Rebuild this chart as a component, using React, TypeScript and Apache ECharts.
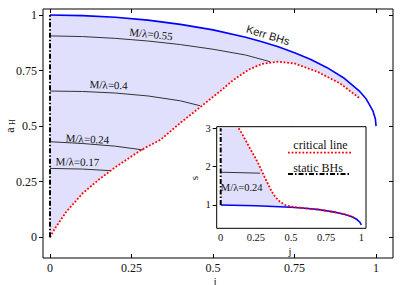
import React, { useEffect, useRef } from "react";
import * as echarts from "echarts";

// Main panel: a_H vs j
const kerrJ = [0, 0.1, 0.2, 0.3, 0.4, 0.5, 0.6, 0.65, 0.7, 0.75, 0.8, 0.85, 0.9, 0.95, 0.97, 0.99, 0.998, 1];
const kerrA = [1, 0.997, 0.99, 0.977, 0.958, 0.933, 0.9, 0.88, 0.857, 0.83, 0.8, 0.763, 0.718, 0.656, 0.622, 0.57, 0.532, 0.5];
const critJ = [0, 0.015, 0.05, 0.1, 0.15, 0.2, 0.28, 0.34, 0.4, 0.46, 0.52, 0.56, 0.61, 0.65, 0.7, 0.75, 0.82, 0.89, 0.95];
const critA = [0, 0.04, 0.115, 0.198, 0.26, 0.315, 0.393, 0.44, 0.515, 0.585, 0.655, 0.705, 0.755, 0.78, 0.79, 0.782, 0.745, 0.692, 0.625];
const m055J = [0, 0.1, 0.2, 0.3, 0.4, 0.5, 0.6, 0.675];
const m055A = [0.906, 0.903, 0.895, 0.883, 0.867, 0.846, 0.82, 0.79];
const m040J = [0, 0.1, 0.2, 0.3, 0.4, 0.46];
const m040A = [0.658, 0.656, 0.649, 0.636, 0.614, 0.592];
const m024J = [0, 0.1, 0.2, 0.286];
const m024A = [0.43, 0.422, 0.41, 0.393];
const m017J = [0, 0.1, 0.184];
const m017A = [0.31, 0.307, 0.3];
const staticJ = [0, 0];
const staticA = [0, 1];

// Inset: s vs j
const insKerrJ = [0, 0.25, 0.5, 0.6, 0.7, 0.8, 0.88, 0.93, 0.97, 0.99, 1];
const insKerrS = [1, 0.98, 0.94, 0.915, 0.88, 0.82, 0.76, 0.7, 0.62, 0.55, 0.48];
const insCritJ = [0.128, 0.15, 0.18, 0.209, 0.24, 0.268, 0.29, 0.316, 0.34, 0.363, 0.39, 0.42, 0.46, 0.5, 0.55, 0.6, 0.7, 0.8, 0.88, 0.93, 0.95];
const insCritS = [3, 2.87, 2.67, 2.47, 2.27, 2.08, 1.9, 1.7, 1.52, 1.35, 1.2, 1.09, 1.0, 0.955, 0.935, 0.915, 0.88, 0.82, 0.76, 0.7, 0.67];
const insM024J = [0, 0.28];
const insM024S = [1.855, 1.83];
const insStaticJ = [0, 0];
const insStaticS = [1, 3];

const mainTicksX = [0, 0.25, 0.5, 0.75, 1];
const mainTicksY = [0, 0.25, 0.5, 0.75, 1];
const insTicksX = [0, 0.25, 0.5, 0.75, 1];
const insTicksY = [1, 2, 3];

const SERIF = "Liberation Serif, serif";
const SANS = "Liberation Sans, sans-serif";
const SHADE = "#e0e0fc";
const RED_DOT = [1.8, 1.8];
const DASHDOT = [5, 2, 1.5, 2];

const pairs = (xs: number[], ys: number[]) => xs.map((x, i) => [x, ys[i]]);

function App() {
  const ref = useRef<HTMLDivElement>(null);
  useEffect(() => {
    if (!ref.current) return;
    const chart = echarts.init(ref.current, undefined, { renderer: "svg" });

    const xAxisCommon = (gridIndex: number, position: string, min: number, max: number, ticks: number[], labels: boolean, fontSize: number) => ({
      type: "value",
      gridIndex,
      position,
      min,
      max,
      axisLine: { show: false, onZero: false },
      splitLine: { show: false },
      axisTick: { show: true, inside: true, length: 4, customValues: ticks, lineStyle: { color: "#000", width: 1 } },
      axisLabel: {
        show: labels,
        customValues: ticks,
        margin: 4,
        fontFamily: SERIF,
        fontSize,
        color: "#111",
        formatter: (v: number) => String(v),
      },
    });
    const yAxisCommon = (gridIndex: number, position: string, min: number, max: number, ticks: number[], labels: boolean, fontSize: number, inside: boolean) => ({
      type: "value",
      gridIndex,
      position,
      min,
      max,
      axisLine: { show: false, onZero: false },
      splitLine: { show: false },
      axisTick: { show: true, inside, length: 4, customValues: ticks, lineStyle: { color: "#000", width: 1 } },
      axisLabel: {
        show: labels,
        customValues: ticks,
        margin: 6,
        fontFamily: SERIF,
        fontSize,
        color: "#111",
        formatter: (v: number) => String(v),
      },
    });

    const line = (data: number[][], xi: number, yi: number, color: string, width: number, type: any, z = 3) => ({
      type: "line",
      xAxisIndex: xi,
      yAxisIndex: yi,
      data,
      symbol: "none",
      showSymbol: false,
      silent: true,
      z,
      lineStyle: { color, width, type },
    });

    const txt = (x: number, y: number, text: string, font: string, rotDeg = 0) => ({
      type: "text",
      x,
      y,
      z: 20,
      zlevel: 0,
      rotation: (rotDeg * Math.PI) / 180,
      style: { text, font, fill: "#111", align: "center", verticalAlign: "middle" },
    });

    const option: any = {
      animation: false,
      grid: [
        { left: 43, top: 9, width: 350, height: 249, show: true, borderColor: "#000", borderWidth: 1, backgroundColor: "transparent" },
        { left: 216.7, top: 126.7, width: 149.3, height: 101.6, show: true, borderColor: "#000", borderWidth: 1, backgroundColor: "#fff", z: 4 },
      ],
      xAxis: [
        xAxisCommon(0, "bottom", -0.0215, 1.052, mainTicksX, true, 12),
        xAxisCommon(0, "top", -0.0215, 1.052, mainTicksX, false, 12),
        xAxisCommon(1, "bottom", -0.0285, 1.0335, insTicksX, true, 10.5),
        xAxisCommon(1, "top", -0.0285, 1.0335, insTicksX, false, 10.5),
      ],
      yAxis: [
        yAxisCommon(0, "left", -0.093, 1.027, mainTicksY, true, 12, false),
        yAxisCommon(0, "right", -0.093, 1.027, mainTicksY, false, 12, true),
        yAxisCommon(1, "left", 0.392, 3.042, insTicksY, true, 10.5, false),
        yAxisCommon(1, "right", 0.392, 3.042, insTicksY, false, 10.5, true),
      ],
      series: [
        {
          type: "custom",
          xAxisIndex: 0,
          yAxisIndex: 0,
          data: [[0, 0]],
          silent: true,
          z: 1,
          renderItem: (_p: any, api: any) => {
            const pts: number[][] = [];
            for (let i = 0; i < kerrJ.length; i++) if (kerrJ[i] <= 0.95) pts.push(api.coord([kerrJ[i], kerrA[i]]));
            for (let i = critJ.length - 1; i >= 0; i--) pts.push(api.coord([critJ[i], critA[i]]));
            return { type: "polygon", shape: { points: pts }, style: { fill: SHADE, stroke: null } };
          },
        },
        {
          type: "custom",
          xAxisIndex: 2,
          yAxisIndex: 2,
          data: [[0, 1]],
          silent: true,
          z: 5,
          renderItem: (_p: any, api: any) => {
            const pts: number[][] = [];
            for (let i = 0; i < insKerrJ.length; i++) if (insKerrJ[i] <= 0.95) pts.push(api.coord([insKerrJ[i], insKerrS[i]]));
            for (let i = insCritJ.length - 1; i >= 0; i--) pts.push(api.coord([insCritJ[i], insCritS[i]]));
            pts.push(api.coord([0, 3]));
            return { type: "polygon", shape: { points: pts }, style: { fill: SHADE, stroke: null } };
          },
        },
        line(pairs(m055J, m055A), 0, 0, "#333", 1, "solid"),
        line(pairs(m040J, m040A), 0, 0, "#333", 1, "solid"),
        line(pairs(m024J, m024A), 0, 0, "#333", 1, "solid"),
        line(pairs(m017J, m017A), 0, 0, "#333", 1, "solid"),
        line(pairs(kerrJ, kerrA), 0, 0, "#0000ff", 1.6, "solid", 4),
        line(pairs(critJ, critA), 0, 0, "#ff0000", 1.8, RED_DOT, 4),
        line(pairs(staticJ, staticA), 0, 0, "#000", 2, DASHDOT, 4),
        line(pairs(insM024J, insM024S), 2, 2, "#333", 1, "solid", 6),
        line(pairs(insKerrJ, insKerrS), 2, 2, "#0000ff", 1.6, "solid", 6),
        line(pairs(insCritJ, insCritS), 2, 2, "#ff0000", 1.8, RED_DOT, 7),
        line(pairs(insStaticJ, insStaticS), 2, 2, "#000", 2, DASHDOT, 7),
      ],
      graphic: [
        txt(10, 130, "a", `12px ${SERIF}`, 90),
        txt(12.5, 122, "H", `8px ${SERIF}`, 90),
        txt(215, 280.5, "j", `11px ${SERIF}`),
        txt(290, 251.5, "j", `10.5px ${SERIF}`),
        txt(194, 178, "s", `11px ${SERIF}`, 90),
        txt(268, 35, "Kerr BHs", `11px ${SANS}`, -17),
        txt(151, 34, "M/λ=0.55", `11px ${SERIF}`, -6),
        txt(108.7, 84.7, "M/λ=0.4", `11px ${SERIF}`, -2),
        txt(87.5, 138.8, "M/λ=0.24", `11px ${SERIF}`, -2.5),
        txt(77.5, 161.7, "M/λ=0.17", `11px ${SERIF}`, -1),
        txt(241.7, 187.5, "M/λ=0.24", `10.5px ${SERIF}`),
        txt(320.5, 145, "critical line", `12px ${SERIF}`),
        { type: "line", z: 20, shape: { x1: 288, y1: 152.7, x2: 352, y2: 152.7 }, style: { stroke: "#ff0000", lineWidth: 1.8, lineDash: RED_DOT } },
        txt(318, 167.5, "static BHs", `12px ${SERIF}`),
        { type: "line", z: 20, shape: { x1: 288, y1: 174, x2: 351, y2: 174 }, style: { stroke: "#000", lineWidth: 2, lineDash: DASHDOT } },
      ],
    };
    chart.setOption(option);
    return () => chart.dispose();
  }, []);
  return <div ref={ref} style={{ width: 407, height: 285, position: "absolute", left: 0, top: 0 }} />;
}

export default App;
